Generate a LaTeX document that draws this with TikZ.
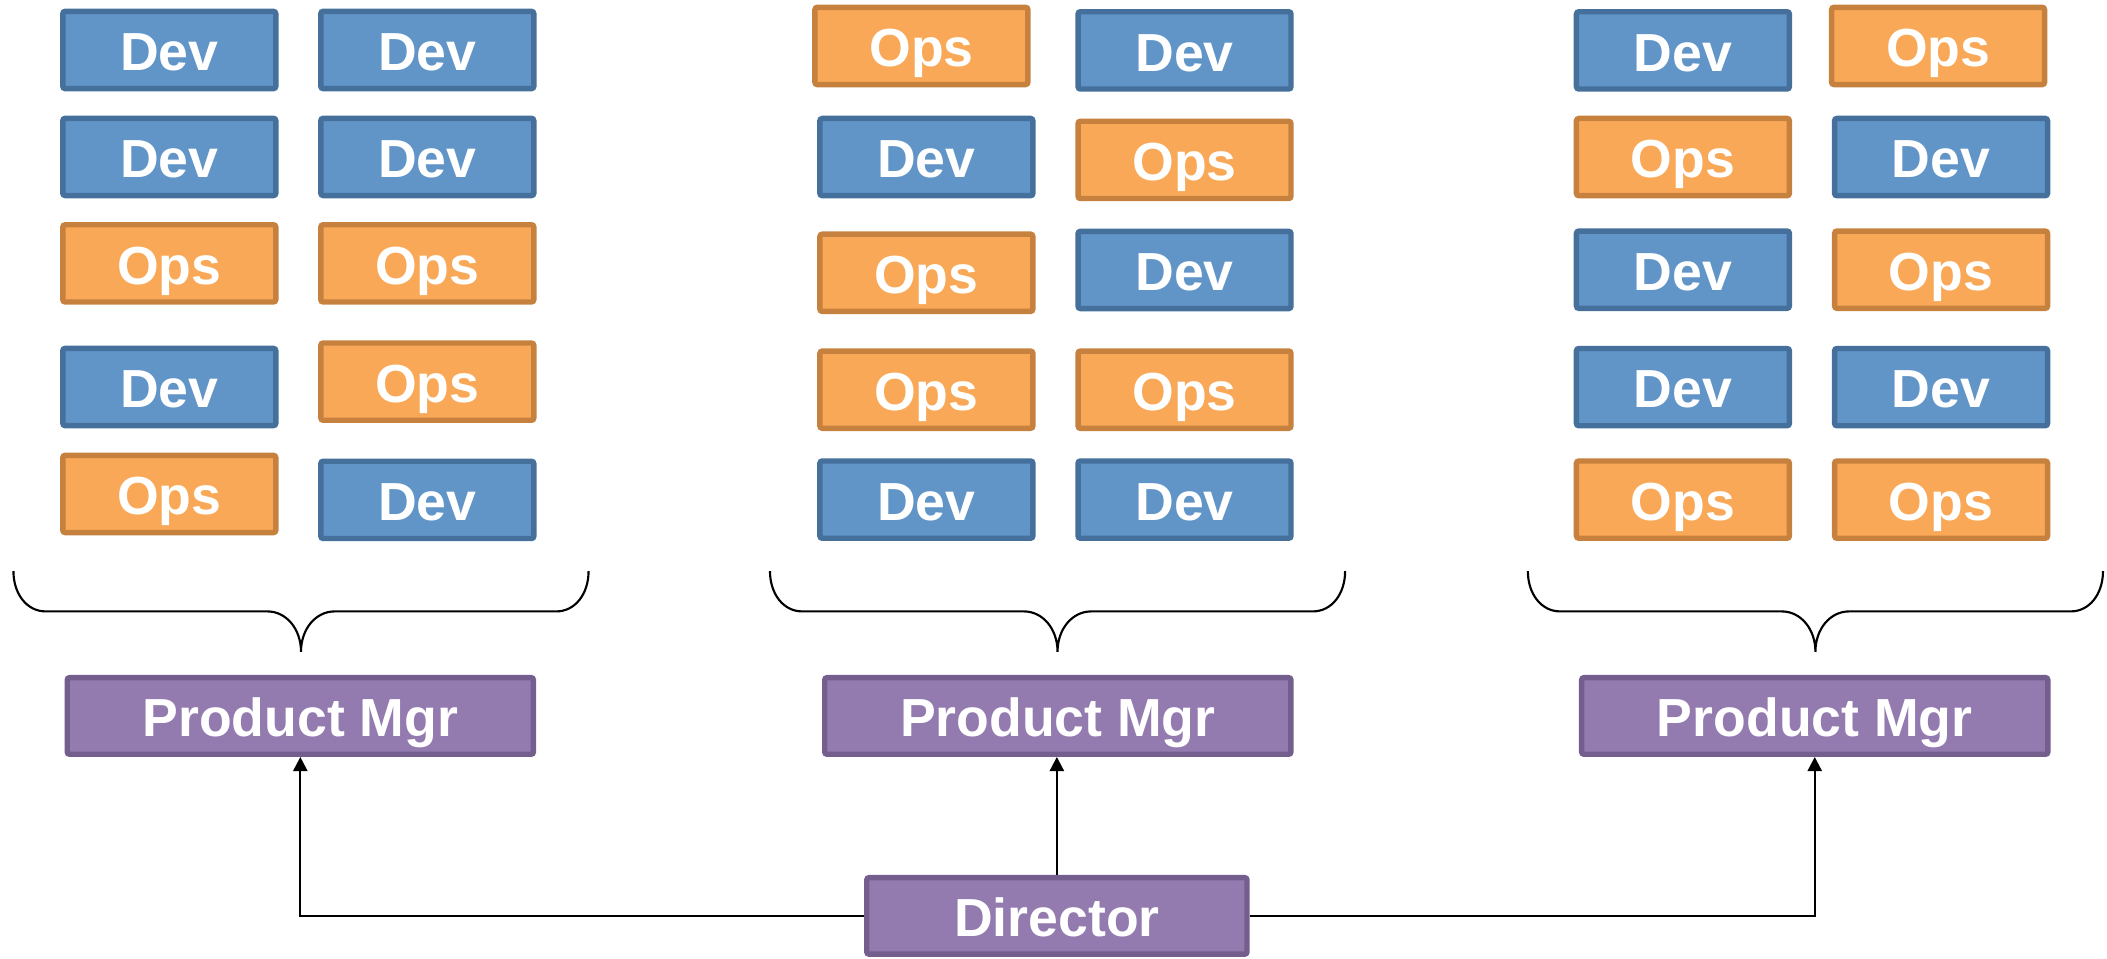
\documentclass[tikz,border=0pt]{standalone}
\usepackage{fontspec}
\setmainfont{Liberation Sans}
\usetikzlibrary{arrows.meta}
\definecolor{devfill}{HTML}{6195C8}
\definecolor{devline}{HTML}{46709C}
\definecolor{opsfill}{HTML}{F9A857}
\definecolor{opsline}{HTML}{C6813F}
\definecolor{mgrfill}{HTML}{937BB0}
\definecolor{mgrline}{HTML}{735E8D}
\tikzset{
  box/.style={rectangle, rounded corners=1pt, line width=2.3pt, text=white,
    font=\fontsize{22.7}{26}\selectfont\bfseries, inner sep=0pt,
    text height=17.5pt, text depth=0pt, minimum height=1.15cm},
  devbox/.style={box, draw=devline, fill=devfill, minimum width=3.17cm},
  opsbox/.style={box, draw=opsline, fill=opsfill, minimum width=3.17cm},
  mgrbox/.style={box, draw=mgrline, fill=mgrfill, minimum height=1.14cm},
  link/.style={line width=0.9pt, -{Triangle[length=6pt,width=6pt]}},
}

\begin{document}
\begin{tikzpicture}[x=0.02cm, y=-0.02cm]
            \useasboundingbox (0,0) rectangle (1568,713);
            % the three teams
            \foreach \x/\y/\k/\t [count=\i] in {
                126/37.2/devbox/Dev, 318/37.2/devbox/Dev,
                126/116.8/devbox/Dev, 318/116.8/devbox/Dev,
                126/196/opsbox/Ops, 318/196/opsbox/Ops,
                126/288/devbox/Dev, 318/284/opsbox/Ops,
                126/367.6/opsbox/Ops, 318/372/devbox/Dev,
                685.7/34.2/opsbox/Ops, 881.5/37.5/devbox/Dev,
                689.4/116.9/devbox/Dev, 881.5/119/opsbox/Ops,
                689.4/203/opsbox/Ops, 881.5/200.9/devbox/Dev,
                689.4/290/opsbox/Ops, 881.5/290/opsbox/Ops,
                689.4/371.8/devbox/Dev, 881.5/371.8/devbox/Dev,
                1252.4/37.5/devbox/Dev, 1442.3/34.2/opsbox/Ops,
                1252.4/116.9/opsbox/Ops, 1444.5/116.9/devbox/Dev,
                1252.4/200.7/devbox/Dev, 1444.5/200.7/opsbox/Ops,
                1252.4/288.1/devbox/Dev, 1444.5/288.1/devbox/Dev,
                1252.4/371.8/opsbox/Ops, 1444.5/371.8/opsbox/Ops}
                \node[\k] (team\i) at (\x,\y) {\t};
            % braces under each team
            \foreach \c in {224,787,1351}
                \draw[line width=0.9pt] (\c-214,425) .. controls (\c-214,442) and (\c-204,455) .. (\c-190,455)
                    -- (\c-25,455) .. controls (\c-11,455) and (\c,468) .. (\c,485)
                    .. controls (\c,468) and (\c+11,455) .. (\c+25,455)
                    -- (\c+190,455) .. controls (\c+204,455) and (\c+214,442) .. (\c+214,425);
            \node[mgrbox, minimum width=6.94cm] (pm1) at (223.5,532.8) {Product Mgr};
            \node[mgrbox, minimum width=6.94cm] (pm2) at (787.2,532.8) {Product Mgr};
            \node[mgrbox, minimum width=6.94cm] (pm3) at (1350.5,532.8) {Product Mgr};
            \node[mgrbox, minimum width=5.66cm] (dir) at (786.5,681.6) {Director};
            \draw[link] (dir.west) -| (pm1.south);
            \draw[link] (dir.north) -- (dir.north |- pm2.south);
            \draw[link] (dir.east) -| (pm3.south);
        \end{tikzpicture}
\end{document}
